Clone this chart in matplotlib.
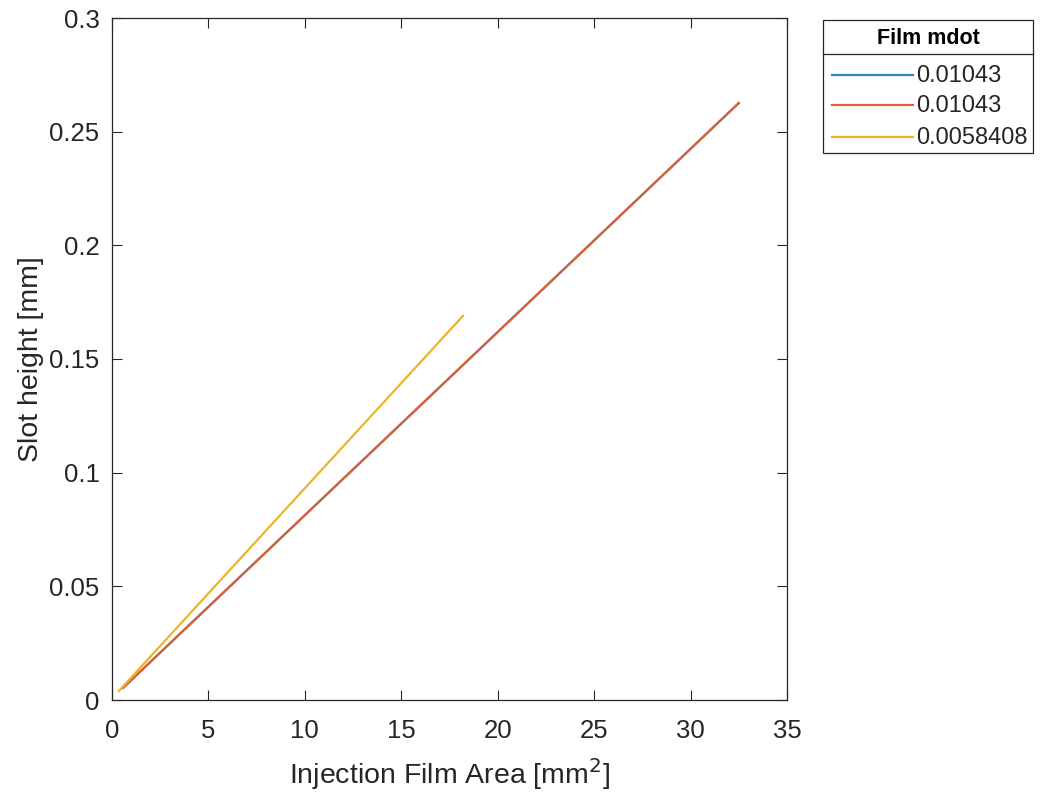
import matplotlib
matplotlib.use("Agg")
import matplotlib.pyplot as plt
from matplotlib.lines import Line2D
from matplotlib.patches import Rectangle

plt.rcParams['font.family'] = ['Liberation Sans', 'DejaVu Sans']

# Injection film area [mm^2] vs slot height [mm] for each film mass flow
area_a = [0.57, 32.5]
height_a = [0.0053, 0.2626]
area_b = [0.57, 32.5]
height_b = [0.0053, 0.2626]
area_c = [0.36, 18.2]
height_c = [0.0040, 0.169]

series_labels = ["0.01043", "0.01043", "0.0058408"]
series_colors = ["#2E86CC", "#DD6132", "#EDB42A"]
legend_title = "Film mdot"

x_ticks = [0, 5, 10, 15, 20, 25, 30, 35]
y_ticks = [0, 0.05, 0.1, 0.15, 0.2, 0.25, 0.3]
y_tick_labels = ["0", "0.05", "0.1", "0.15", "0.2", "0.25", "0.3"]

W, H = 1042, 799
fig = plt.figure(figsize=(W / 100, H / 100), dpi=100)
ax = fig.add_axes([112 / W, 1 - 700 / H, (787 - 112) / W, (700 - 18) / H])

dark = "#262626"
for xs, ys, c, lab in zip([area_a, area_b, area_c], [height_a, height_b, height_c],
                          series_colors, series_labels):
    ax.plot(xs, ys, color=c, lw=1.6, label=lab)

ax.set_xlim(0, 35)
ax.set_ylim(0, 0.3)
ax.set_xticks(x_ticks)
ax.set_yticks(y_ticks)
ax.set_yticklabels(y_tick_labels)
ax.tick_params(direction="in", top=True, right=True, length=7, width=0.8,
               colors=dark, labelsize=18.5)
ax.tick_params(axis="x", pad=14)
ax.tick_params(axis="y", pad=9)
for s in ax.spines.values():
    s.set_color(dark)
    s.set_linewidth(0.9)

ax.set_xlabel("Injection Film Area [mm$^2$]", fontsize=20.5, color=dark, labelpad=9)
ax.set_ylabel("Slot height [mm]", fontsize=20.5, color=dark, labelpad=4)

# Legend box with a titled header row, laid out in pixel units
def fx(px):
    return px / W

def fy(py):
    return 1 - py / H

box_l, box_r, box_t, box_b = 823, 1033, 20, 153
header_b = 54
fig.add_artist(Rectangle((fx(box_l), fy(box_b)), fx(box_r) - fx(box_l), fy(box_t) - fy(box_b),
                         transform=fig.transFigure, facecolor="white", edgecolor=dark, lw=0.9))
fig.add_artist(Line2D([fx(box_l), fx(box_r)], [fy(header_b), fy(header_b)],
                      transform=fig.transFigure, color=dark, lw=0.9))
fig.text(fx((box_l + box_r) / 2), fy(38), legend_title, ha="center", va="center",
         fontsize=15.5, fontweight="bold", color="black")
row_y = [75, 104.5, 137]
for y, c, lab in zip(row_y, series_colors, series_labels):
    fig.add_artist(Line2D([fx(832), fx(913)], [fy(y), fy(y)], transform=fig.transFigure,
                          color=c, lw=1.6))
    fig.text(fx(916), fy(y + 1), lab, ha="left", va="center", fontsize=17, color=dark)

fig.savefig("out.png", dpi=100)
